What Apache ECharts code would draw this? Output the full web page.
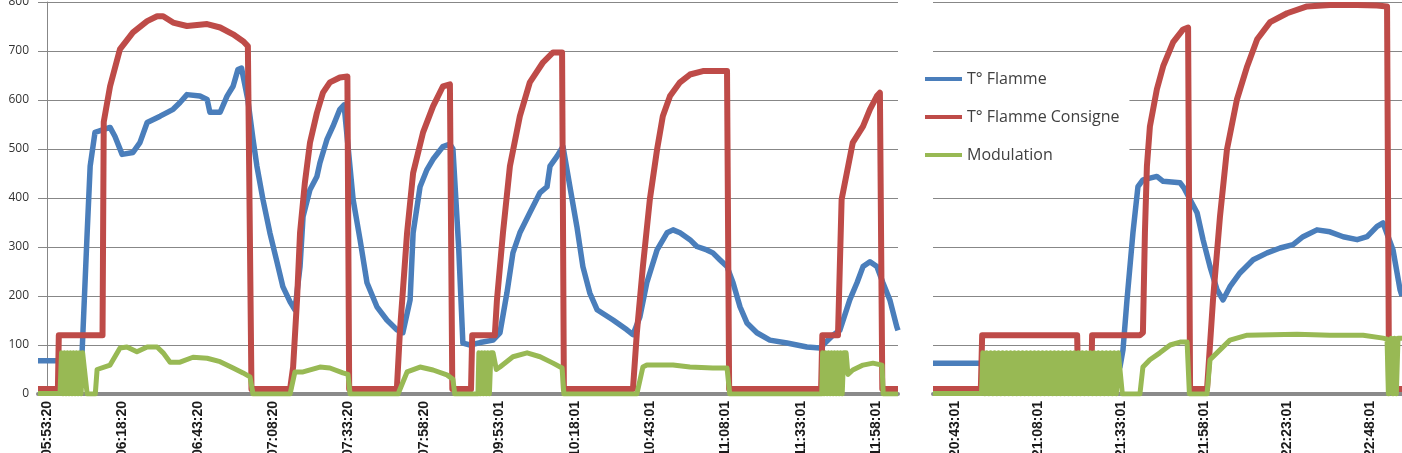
<!DOCTYPE html>
<html><head><meta charset="utf-8">
<script src="https://cdn.jsdelivr.net/npm/echarts@6/dist/echarts.min.js"></script>
<style>html,body{margin:0;padding:0;background:#fff}#c{width:1402px;height:453px}</style>
</head><body><div id="c"></div>
<script>
// Tick labels (category time stamps), one every 25 minutes of logged time
const leftTicks = ['05:53:20','06:18:20','06:43:20','07:08:20','07:33:20','07:58:20','09:53:01','10:18:01','10:43:01','11:08:01','11:33:01','11:58:01'];
const rightTicks = ['20:43:01','21:08:01','21:33:01','21:58:01','22:23:01','22:48:01'];
const seriesNames = ['T° Flamme','T° Flamme Consigne','Modulation'];

// [minutes from first tick label, value]
const flammeL = [[-3,68],[11.5,68],[11.9,125],[13.3,329],[14.3,465],[15.9,534],[20.9,544],[22.5,526],[24.9,489],[28.5,493],[30.8,513],[33.2,554],[37.5,567],[41.8,581],[44.1,595],[46.4,611],[50.7,608],[53.1,601],[54.0,575],[57.4,575],[59.7,608],[61.7,628],[63.3,662],[64.5,665],[66.6,600],[68.3,520],[69.6,465],[71.6,397],[73.9,329],[76.3,268],[78.2,219],[80.6,188],[82.2,172],[83.9,260],[84.9,362],[87.2,417],[89.5,444],[90.5,472],[92.8,519],[94.8,546],[97.1,581],[98.5,590],[101.5,397],[103.8,315],[106.1,227],[109.4,178],[112.7,151],[116.0,131],[118.0,125],[120.4,192],[121.4,329],[123.7,423],[126.0,458],[128.0,479],[131.3,505],[133.6,510],[134.6,500],[136.5,300],[137.9,104],[140.3,100],[143.6,105],[147.9,110],[150.2,125],[152.5,206],[154.5,288],[156.8,329],[160.1,370],[163.5,411],[165.8,423],[166.8,465],[169.1,485],[171.1,505],[173.4,423],[175.7,342],[177.7,260],[180.0,206],[182.4,172],[187.7,151],[192.3,131],[194.3,121],[196.6,157],[198.9,227],[202.3,294],[205.6,329],[207.6,335],[209.9,329],[213.2,315],[215.5,301],[218.8,294],[220.8,288],[223.1,274],[225.5,260],[227.5,227],[229.8,178],[232.1,145],[235.4,125],[239.7,110],[245.4,104],[252.0,96],[256.3,94],[260.6,120],[262.9,130],[266.2,192],[268.6,227],[270.6,260],[272.9,270],[275.2,260],[277.2,227],[279.5,192],[281.8,137],[282.2,130]];
const consigneL = [[-3,10],[3.6,10],[3.9,120],[18.4,120],[18.8,555],[20.9,628],[24.2,704],[28.5,738],[33.2,761],[36.5,771],[38.5,771],[41.8,758],[46.4,751],[53.1,755],[57.4,748],[61.7,734],[65.0,720],[66.6,710],[67.8,10],[80.6,10],[81.6,55],[82.9,192],[83.9,329],[85.5,431],[87.2,513],[89.5,574],[91.5,615],[93.8,636],[97.1,646],[99.6,648],[100.2,10],[116.0,10],[117.0,125],[119.4,329],[121.4,451],[124.7,534],[128.0,587],[131.3,628],[133.6,632],[134.4,10],[140.6,10],[141.0,120],[148.5,120],[149.2,192],[151.2,329],[153.5,465],[156.8,567],[160.1,636],[164.5,677],[167.8,697],[170.8,697],[171.4,10],[194.3,10],[195.6,125],[197.6,260],[199.9,397],[202.3,499],[204.2,567],[206.6,608],[209.9,636],[213.2,652],[217.5,659],[225.5,659],[226.2,10],[256.7,10],[257.1,120],[262.3,120],[263.5,397],[267.2,513],[270.6,546],[272.9,581],[275.2,608],[276.2,615],[277.0,10],[282.2,10]];
const modulationL = [[-3,1],[4.3,1],[4.8,84],[5.3,0],[5.8,84],[6.3,0],[6.8,84],[7.3,0],[7.8,84],[8.3,0],[8.8,84],[9.3,0],[9.8,84],[10.3,0],[10.8,84],[11.3,0],[11.8,84],[12.3,84],[13.3,0],[16.0,0],[16.6,50],[20.9,59],[24.2,94],[26.5,96],[29.8,86],[33.2,96],[36.5,96],[38.5,84],[40.8,65],[44.1,65],[48.4,75],[53.1,73],[57.4,66],[61.7,53],[65.0,43],[67.3,35],[68.3,0],[80.6,0],[82.2,45],[84.9,45],[90.5,55],[93.8,53],[98.1,43],[99.8,40],[100.5,0],[116.4,0],[119.4,45],[123.7,55],[128.0,49],[132.6,39],[134.6,30],[135.2,0],[142.9,0],[143.2,84],[143.7,0],[144.2,84],[144.7,0],[145.2,84],[145.7,0],[146.2,84],[146.7,0],[147.2,84],[147.9,84],[149.0,50],[150.2,55],[154.5,76],[159.2,84],[163.5,76],[167.8,63],[170.8,53],[171.4,0],[195.6,0],[197.6,55],[198.9,59],[202.3,59],[207.6,59],[213.2,55],[220.8,53],[225.5,53],[226.4,0],[256.9,0],[257.2,84],[257.7,0],[258.2,84],[258.7,0],[259.2,84],[259.7,0],[260.2,84],[260.7,0],[261.2,84],[261.7,0],[262.2,84],[262.7,0],[263.2,84],[263.7,0],[264.2,84],[265.0,84],[265.6,40],[267.2,49],[270.6,59],[273.9,63],[276.9,59],[277.3,0],[282.2,0]];

const flammeR = [[-6.6,63],[7.5,63],[8.4,55],[16.6,49],[34.6,49],[49.7,55],[50.6,90],[51.8,192],[53.6,329],[55.1,423],[56.6,437],[60.8,444],[62.7,434],[67.8,431],[69.0,420],[72.9,370],[74.7,315],[76.8,260],[78.9,213],[80.7,192],[82.8,219],[85.8,247],[89.8,274],[94.0,288],[97.9,298],[101.8,305],[104.8,321],[109.0,335],[112.9,331],[116.9,321],[121.1,315],[124.1,321],[127.1,342],[128.9,349],[131.9,294],[134.0,213],[134.6,200]];
const consigneR = [[-6.6,10],[7.8,10],[8.2,120],[36.8,120],[37.1,10],[41.0,10],[41.3,120],[55.7,120],[56.6,125],[57.2,329],[57.8,465],[58.7,546],[60.8,622],[62.7,669],[65.7,718],[68.7,744],[70.2,748],[70.8,10],[75.9,10],[77.7,192],[79.8,362],[81.9,499],[84.9,601],[88.0,669],[91.0,724],[94.9,759],[100.0,777],[106.0,791],[112.9,794],[121.1,794],[127.1,793],[130.1,791],[130.7,10],[134.6,10]];
const modulationR = [[-6.6,1],[8.0,1],[8.4,84],[9.0,0],[9.6,84],[10.2,0],[10.8,84],[11.4,0],[12.0,84],[12.6,0],[13.2,84],[13.8,0],[14.4,84],[15.0,0],[15.6,84],[16.2,0],[16.8,84],[17.4,0],[18.0,84],[18.6,0],[19.2,84],[19.8,0],[20.4,84],[21.0,0],[21.6,84],[22.2,0],[22.8,84],[23.4,0],[24.0,84],[24.6,0],[25.2,84],[25.8,0],[26.4,84],[27.0,0],[27.6,84],[28.2,0],[28.8,84],[29.4,0],[30.0,84],[30.6,0],[31.2,84],[31.8,0],[32.4,84],[33.0,0],[33.6,84],[34.2,0],[34.8,84],[35.4,0],[36.0,84],[36.6,0],[37.2,84],[37.8,0],[38.4,84],[39.0,0],[39.6,84],[40.2,0],[40.8,84],[41.4,0],[42.0,84],[42.6,0],[43.2,84],[43.8,0],[44.4,84],[45.0,0],[45.6,84],[46.2,0],[46.8,84],[47.4,0],[48.0,84],[48.6,0],[49.2,84],[49.8,84],[50.4,0],[55.7,0],[56.6,55],[58.7,70],[61.7,84],[64.8,100],[67.8,106],[69.9,106],[70.6,0],[75.9,0],[76.8,70],[79.8,90],[82.8,110],[88.0,120],[103.0,122],[112.9,120],[122.9,120],[128.9,114],[130.1,112],[130.5,0],[131.0,0],[131.4,114],[131.9,0],[132.4,114],[132.9,0],[133.4,114],[134.0,114],[134.6,114]];

const colors = ['#4a7ebb','#be4b48','#98b954'];
const gridColor = '#878787';

function xAxis(gridIndex, min, max, ticks) {
  return {
    type: 'value', gridIndex, min, max,
    axisLine: { show: true, lineStyle: { color: '#8a8a8a', width: 4 } },
    axisTick: { show: false },
    splitLine: { show: false },
    axisLabel: {
      customValues: ticks.map((_, i) => i * 25),
      formatter: v => ticks[Math.round(v / 25)] || '',
      rotate: 90, margin: 7,
      fontFamily: '"Liberation Sans", Arial, sans-serif', fontSize: 14, fontWeight: 'bold', color: '#1a1a1a'
    }
  };
}
function yAxis(gridIndex, showLabels) {
  return {
    type: 'value', gridIndex, min: 0, max: 800, interval: 100,
    axisLine: { show: showLabels, lineStyle: { color: gridColor, width: 1 } },
    axisTick: { show: showLabels, length: 4, lineStyle: { color: gridColor } },
    splitLine: { show: true, lineStyle: { color: gridColor, width: 1 } },
    axisLabel: { show: showLabels, margin: 9, fontFamily: 'Open Sans', fontSize: 12, color: '#333' }
  };
}
function line(name, data, idx, ci, w) {
  return {
    name, type: 'line', data, xAxisIndex: idx, yAxisIndex: idx,
    symbol: 'none', showSymbol: false, smooth: false, clip: true,
    lineStyle: { color: colors[ci], width: w, join: 'round' },
    itemStyle: { color: colors[ci] }
  };
}

const chart = echarts.init(document.getElementById('c'), null, { renderer: 'canvas' });
chart.setOption({
  animation: false,
  backgroundColor: '#fff',
  grid: [
    { left: 38, right: 504, top: 2, bottom: 59, containLabel: false, outerBoundsMode: 'none' },
    { left: 933, right: 0, top: 2, bottom: 59, containLabel: false, outerBoundsMode: 'none' }
  ],
  xAxis: [xAxis(0, -3, 282.2, leftTicks), xAxis(1, -6.6, 134.6, rightTicks)],
  yAxis: [yAxis(0, true), yAxis(1, false)],
  legend: {
    data: seriesNames, orient: 'vertical', left: 920, top: 59,
    icon: 'rect', itemWidth: 37, itemHeight: 4, itemGap: 18,
    padding: [10, 10, 10, 5], backgroundColor: '#fff',
    textStyle: { fontFamily: 'Open Sans', fontSize: 16, color: '#404040', lineHeight: 20 }
  },
  series: [
    line(seriesNames[0], flammeL, 0, 0, 5.5),
    line(seriesNames[1], consigneL, 0, 1, 6),
    line(seriesNames[2], modulationL, 0, 2, 5),
    line(seriesNames[0], flammeR, 1, 0, 5.5),
    line(seriesNames[1], consigneR, 1, 1, 6),
    line(seriesNames[2], modulationR, 1, 2, 5)
  ]
});
</script></body></html>
